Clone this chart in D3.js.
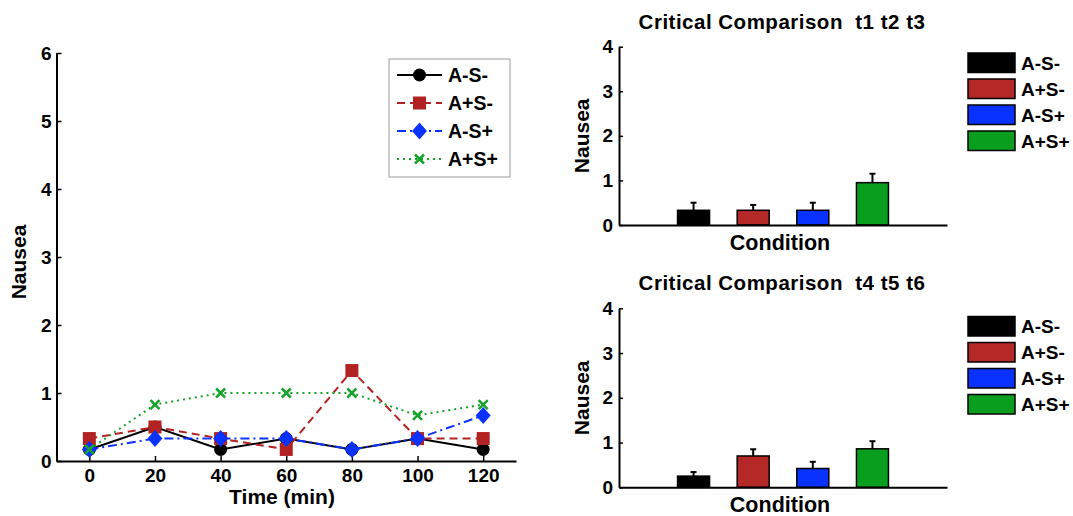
<!DOCTYPE html>
<html><head><meta charset="utf-8">
<script src="https://cdn.jsdelivr.net/npm/d3@7"></script>
<style>
body{margin:0;background:#fff;}
svg{display:block;font-family:"Liberation Sans",Arial,Helvetica,sans-serif;font-weight:bold;}
</style></head><body>
<svg id="c" width="1073" height="516"></svg>
<script>
// ---- data ----
const times = [0, 20, 40, 60, 80, 100, 120];
const seriesNames = ["A-S-", "A+S-", "A-S+", "A+S+"];
const valsASmSm = [0.17, 0.5, 0.17, 0.33, 0.17, 0.33, 0.17];
const valsApSm  = [0.33, 0.5, 0.33, 0.17, 1.33, 0.33, 0.33];
const valsAmSp  = [0.17, 0.33, 0.33, 0.33, 0.17, 0.33, 0.67];
const valsApSp  = [0.17, 0.83, 1.0, 1.0, 1.0, 0.67, 0.83];
const leftYTicks = [0, 1, 2, 3, 4, 5, 6];
const rightYTicks = [0, 1, 2, 3, 4];
const conditions = ["A-S-", "A+S-", "A-S+", "A+S+"];
const meansT123 = [0.33, 0.33, 0.33, 0.95];
const errT123   = [0.17, 0.12, 0.17, 0.2];
const meansT456 = [0.25, 0.7, 0.42, 0.86];
const errT456   = [0.09, 0.15, 0.15, 0.17];

const colors = ["#000000", "#b22222", "#0a32ff", "#16a32a"];
const barColors = ["#000000", "#b52828", "#0a32ff", "#0a9e1e"];

const svg = d3.select("#c");
const FONT = "Liberation Sans, Arial, sans-serif";

// ---- left line chart ----
const xL = d3.scaleLinear().domain([-10, 130]).range([56.5, 516]);
const yL = d3.scaleLinear().domain([0, 6]).range([461, 53]);

const gxL = svg.append("g").attr("transform", "translate(0,461)")
  .call(d3.axisBottom(xL).tickValues(times).tickFormat(d3.format("d")).tickSize(-5).tickPadding(8).tickSizeOuter(0));
const gyL = svg.append("g").attr("transform", "translate(56.5,0)")
  .call(d3.axisLeft(yL).tickValues(leftYTicks).tickFormat(d3.format("d")).tickSize(-5).tickPadding(5).tickSizeOuter(0));
[gxL, gyL].forEach(g => {
  g.select(".domain").attr("stroke", "#000").attr("stroke-width", 2);
  g.selectAll(".tick line").attr("stroke", "#000").attr("stroke-width", 1.5);
  g.selectAll(".tick text").attr("font-size", 19).attr("font-weight", "bold").attr("font-family", FONT).attr("fill", "#000");
});

svg.append("text").attr("x", 282).attr("y", 504).attr("text-anchor", "middle")
  .attr("font-size", 21).text("Time (min)");
svg.append("text").attr("transform", "translate(26,262) rotate(-90)").attr("text-anchor", "middle")
  .attr("font-size", 21).text("Nausea");

const allSeries = [valsASmSm, valsApSm, valsAmSp, valsApSp];
const dashes = [null, "8,5", "9,4,2,4", "2,4"];
const line = d3.line().x((d, i) => xL(times[i])).y(d => yL(d));

function drawMarker(g, type, x, y, col) {
  if (type === 0) g.append("circle").attr("cx", x).attr("cy", y).attr("r", 6.5).attr("fill", col);
  else if (type === 1) g.append("rect").attr("x", x - 6.5).attr("y", y - 6.5).attr("width", 13).attr("height", 13).attr("fill", col);
  else if (type === 2) g.append("path").attr("d", `M${x},${y-8.5}L${x+7.5},${y}L${x},${y+8.5}L${x-7.5},${y}Z`).attr("fill", col);
  else g.append("path").attr("d", `M${x-4.5},${y-4.5}L${x+4.5},${y+4.5}M${x-4.5},${y+4.5}L${x+4.5},${y-4.5}`)
      .attr("stroke", col).attr("stroke-width", 2.5).attr("fill", "none");
}

allSeries.forEach((vals, s) => {
  const g = svg.append("g");
  g.append("path").datum(vals).attr("d", line).attr("fill", "none")
    .attr("stroke", colors[s]).attr("stroke-width", 2)
    .attr("stroke-dasharray", dashes[s]);
  vals.forEach((v, i) => drawMarker(g, s, xL(times[i]), yL(v), colors[s]));
});

// left legend
svg.append("rect").attr("x", 389).attr("y", 59).attr("width", 121).attr("height", 118)
  .attr("fill", "#fff").attr("stroke", "#9a9a9a").attr("stroke-width", 1);
const legY = [75, 103, 131, 159];
seriesNames.forEach((n, s) => {
  const g = svg.append("g");
  g.append("line").attr("x1", 397).attr("x2", 442).attr("y1", legY[s]).attr("y2", legY[s])
    .attr("stroke", colors[s]).attr("stroke-width", 2).attr("stroke-dasharray", dashes[s]);
  drawMarker(g, s, 419.5, legY[s], colors[s]);
  g.append("text").attr("x", 448).attr("y", legY[s] + 7).attr("font-size", 19.5).text(n);
});

// ---- right bar charts ----
function barChart(top, bottom, title, means, errs, legTop) {
  const x = d3.scalePoint().domain(conditions).range([619, 947]).padding(1.25);
  const y = d3.scaleLinear().domain([0, 4]).range([bottom, top]);
  const bw = 32;
  const g = svg.append("g");
  g.selectAll("line.err").data(conditions).enter().append("line")
    .attr("x1", d => x(d)).attr("x2", d => x(d))
    .attr("y1", (d, i) => y(means[i])).attr("y2", (d, i) => y(means[i] + errs[i]))
    .attr("stroke", "#000").attr("stroke-width", 2);
  g.selectAll("line.cap").data(conditions).enter().append("line")
    .attr("x1", d => x(d) - 3).attr("x2", d => x(d) + 3)
    .attr("y1", (d, i) => y(means[i] + errs[i])).attr("y2", (d, i) => y(means[i] + errs[i]))
    .attr("stroke", "#000").attr("stroke-width", 2);
  g.selectAll("rect.bar").data(conditions).enter().append("rect")
    .attr("x", d => x(d) - bw / 2).attr("width", bw)
    .attr("y", (d, i) => y(means[i])).attr("height", (d, i) => bottom - y(means[i]))
    .attr("fill", (d, i) => barColors[i]).attr("stroke", "#000").attr("stroke-width", 1.5);

  const gx = svg.append("g").attr("transform", `translate(0,${bottom})`)
    .call(d3.axisBottom(x).tickValues([]).tickSize(0).tickSizeOuter(0));
  const gy = svg.append("g").attr("transform", "translate(619,0)")
    .call(d3.axisLeft(y).tickValues(rightYTicks).tickFormat(d3.format("d")).tickSize(-4).tickPadding(6).tickSizeOuter(0));
  [gx, gy].forEach(a => {
    a.select(".domain").attr("stroke", "#000").attr("stroke-width", 2);
    a.selectAll(".tick line").attr("stroke", "#000").attr("stroke-width", 1.5);
    a.selectAll(".tick text").attr("font-size", 19).attr("font-weight", "bold").attr("font-family", FONT).attr("fill", "#000");
  });

  svg.append("text").attr("x", 782).attr("y", top - 18).attr("text-anchor", "middle")
    .attr("font-size", 20.5).attr("letter-spacing", 0.5).style("white-space", "pre").text(title);
  svg.append("text").attr("x", 780).attr("y", bottom + 25).attr("text-anchor", "middle")
    .attr("font-size", 21.5).text("Condition");
  svg.append("text").attr("transform", `translate(589,${(top + bottom) / 2}) rotate(-90)`)
    .attr("text-anchor", "middle").attr("font-size", 21).text("Nausea");

  conditions.forEach((c, i) => {
    const yy = legTop + i * 26;
    svg.append("rect").attr("x", 968).attr("y", yy).attr("width", 47).attr("height", 19.5)
      .attr("fill", barColors[i]).attr("stroke", "#000").attr("stroke-width", 1.5);
    svg.append("text").attr("x", 1021).attr("y", yy + 16.5).attr("font-size", 19).text(c);
  });
}

barChart(46.7, 225, "Critical Comparison  t1 t2 t3", meansT123, errT123, 53);
barChart(308.3, 487.3, "Critical Comparison  t4 t5 t6", meansT456, errT456, 316.5);
</script>
</body></html>
